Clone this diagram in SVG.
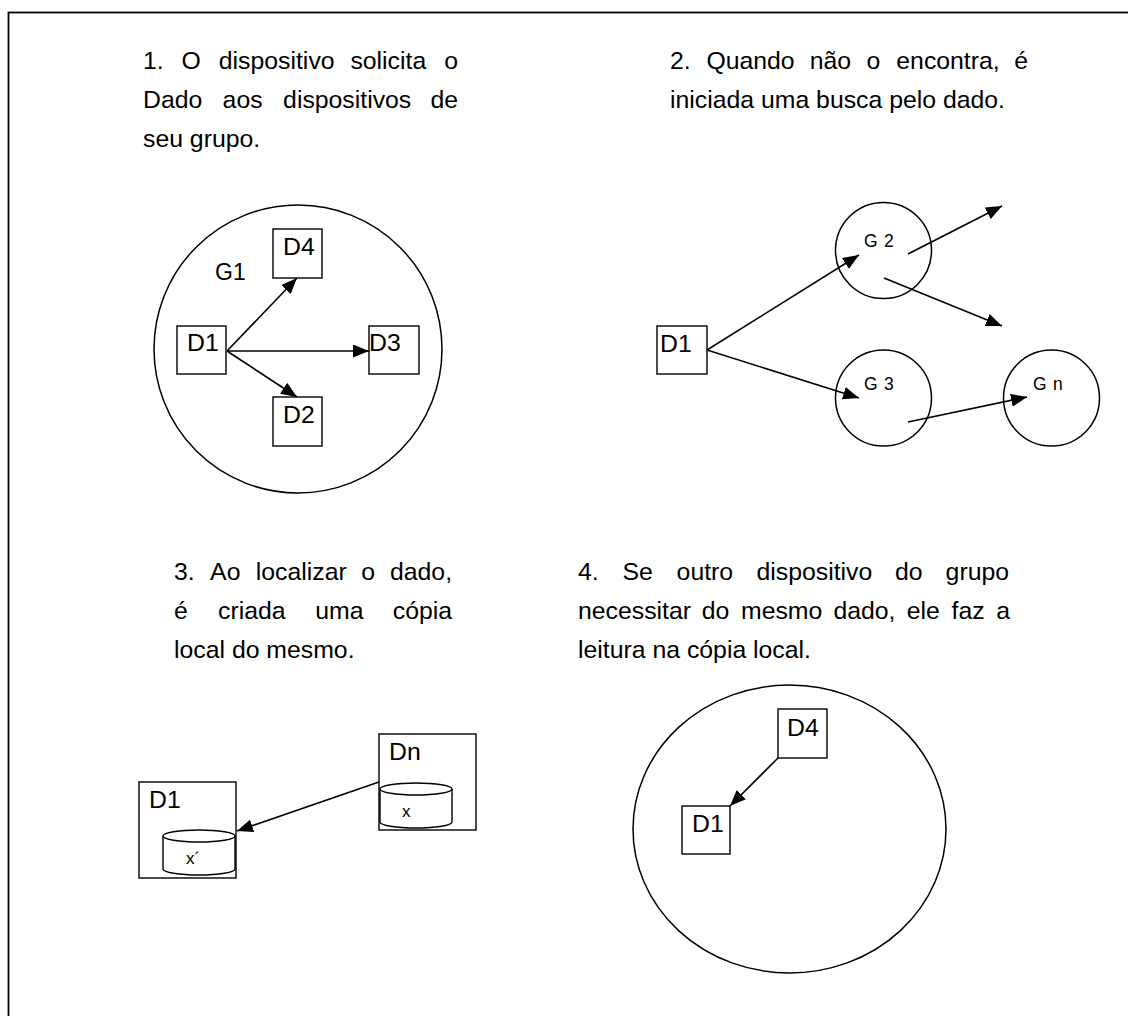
<svg xmlns="http://www.w3.org/2000/svg" width="1128" height="1016" viewBox="0 0 1128 1016">
<defs>
<marker id="ah" markerUnits="userSpaceOnUse" markerWidth="17" markerHeight="13" refX="16" refY="6.5" orient="auto"><path d="M0,0 L16,6.5 L0,13 z" fill="#000"/></marker>
<style>
text{font-family:"Liberation Sans",Arial,sans-serif;fill:#000}
.t{font-size:24.8px}
.s{font-size:17.5px}
.x{font-size:17px}
.b{fill:#fff;stroke:#000;stroke-width:1.4}
.c{fill:#fff;stroke:#000;stroke-width:1.5}
.e{stroke:#000;stroke-width:1.6;fill:none;marker-end:url(#ah)}
</style>
</defs>
<rect width="1128" height="1016" fill="#fff"/>
<rect x="8.5" y="12.5" width="1140" height="1020" fill="none" stroke="#000" stroke-width="1.8"/>

<g id="texts">
<text class="t" y="69"><tspan x="143">1.</tspan><tspan x="181.6">O</tspan><tspan x="218.8">dispositivo</tspan><tspan x="350.4">solicita</tspan><tspan x="444.2">o</tspan></text>
<text class="t" y="108"><tspan x="143">Dado</tspan><tspan x="222.6">aos</tspan><tspan x="283.1">dispositivos</tspan><tspan x="430.4">de</tspan></text>
<text class="t" x="143" y="147">seu grupo.</text>
<text class="t" y="69"><tspan x="670">2.</tspan><tspan x="706.4">Quando</tspan><tspan x="809.7">não</tspan><tspan x="866.6">o</tspan><tspan x="896.3">encontra,</tspan><tspan x="1014.2">é</tspan></text>
<text class="t" x="670" y="108">iniciada uma busca pelo dado.</text>
<text class="t" y="580"><tspan x="174">3.</tspan><tspan x="210.1">Ao</tspan><tspan x="255.8">localizar</tspan><tspan x="361.3">o</tspan><tspan x="390">dado,</tspan></text>
<text class="t" y="619"><tspan x="174">é</tspan><tspan x="218.1">criada</tspan><tspan x="315.3">uma</tspan><tspan x="392.8">cópia</tspan></text>
<text class="t" x="174" y="658">local do mesmo.</text>
<text class="t" y="580"><tspan x="578">4.</tspan><tspan x="622.5">Se</tspan><tspan x="676.6">outro</tspan><tspan x="756.5">dispositivo</tspan><tspan x="895">do</tspan><tspan x="945.6">grupo</tspan></text>
<text class="t" y="619"><tspan x="578">necessitar</tspan><tspan x="701.7">do</tspan><tspan x="741">mesmo</tspan><tspan x="833.4">dado,</tspan><tspan x="906.8">ele</tspan><tspan x="951.6">faz</tspan><tspan x="996.2">a</tspan></text>
<text class="t" x="578" y="658">leitura na cópia local.</text>
</g>

<!-- Diagram 1 -->
<g id="g1"><ellipse class="c" cx="298" cy="349" rx="144" ry="144"/><text class="t" x="215" y="280" style="font-size:23px">G1</text></g>
<g id="d1a"><rect class="b" x="177" y="326" width="49" height="48"/><text class="t" x="187" y="351">D1</text></g>
<g id="d4a"><rect class="b" x="273" y="229" width="49" height="49"/><text class="t" x="283" y="255">D4</text></g>
<g id="d3a"><rect class="b" x="369" y="326" width="50" height="48"/><text class="t" x="369" y="351">D3</text></g>
<g id="d2a"><rect class="b" x="273" y="397" width="49" height="49"/><text class="t" x="283" y="423">D2</text></g>

<!-- Diagram 2 -->
<g id="d1b"><rect class="b" x="657" y="326" width="50" height="48"/><text class="t" x="660" y="352">D1</text></g>
<g id="g2"><circle class="c" cx="883.5" cy="250.5" r="48"/><text class="s" y="247"><tspan x="864">G</tspan><tspan x="884">2</tspan></text></g>
<g id="g3"><circle class="c" cx="883.5" cy="398" r="48"/><text class="s" y="390"><tspan x="864">G</tspan><tspan x="884">3</tspan></text></g>
<g id="gn"><circle class="c" cx="1051.5" cy="398" r="48"/><text class="s" y="390"><tspan x="1033">G</tspan><tspan x="1053">n</tspan></text></g>

<!-- Diagram 3 -->
<g id="d1c"><rect class="b" x="139" y="782" width="97" height="96"/><text class="t" x="149" y="808">D1</text>
<path class="b" d="M163,836 V869 A36,6 0 0 0 235,869 V836"/><ellipse class="b" cx="199" cy="836" rx="36" ry="6"/><text class="x" x="186" y="864">x´</text></g>
<g id="dn"><rect class="b" x="379" y="734" width="97" height="96"/><text class="t" x="389" y="760">Dn</text>
<path class="b" d="M380,789 V822 A36,6 0 0 0 452,822 V789"/><ellipse class="b" cx="416" cy="789" rx="36" ry="6"/><text class="x" x="402" y="817">x</text></g>

<!-- Diagram 4 -->
<g id="g4"><ellipse class="c" cx="789.5" cy="829" rx="156.5" ry="144"/></g>
<g id="d4d"><rect class="b" x="778" y="709" width="49" height="49"/><text class="t" x="787" y="736">D4</text></g>
<g id="d1d"><rect class="b" x="682" y="806" width="48" height="48"/><text class="t" x="692" y="832">D1</text></g>

<g id="connectors">
<line class="e" x1="227" y1="351" x2="297" y2="278"/>
<line class="e" x1="227" y1="351" x2="369" y2="351"/>
<line class="e" x1="227" y1="351" x2="297" y2="397"/>
<line class="e" x1="707" y1="350" x2="859" y2="255"/>
<line class="e" x1="707" y1="350" x2="859" y2="398"/>
<line class="e" x1="908" y1="254" x2="1002" y2="206"/>
<line class="e" x1="884" y1="278" x2="1002" y2="326"/>
<line class="e" x1="908" y1="422" x2="1027" y2="397"/>
<line class="e" x1="379" y1="782" x2="237" y2="831"/>
<line class="e" x1="778" y1="758" x2="730" y2="806"/>
</g>
</svg>
